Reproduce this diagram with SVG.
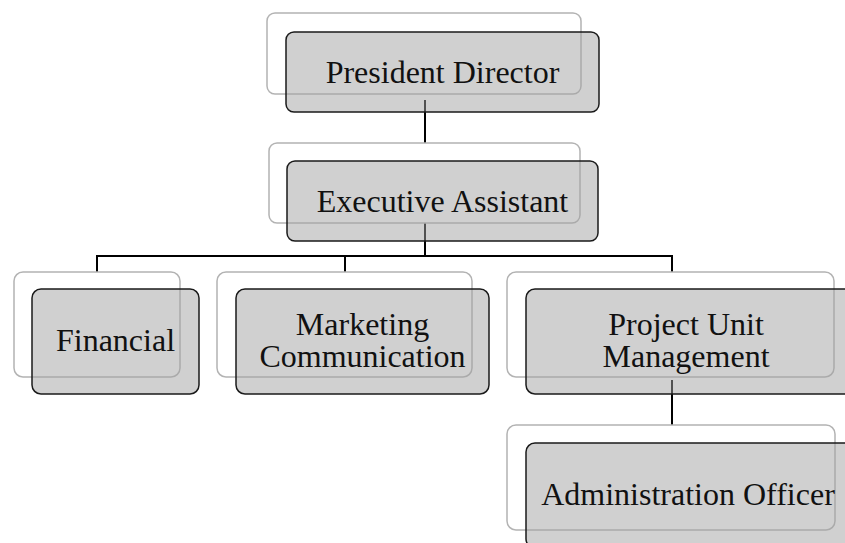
<svg xmlns="http://www.w3.org/2000/svg" width="845" height="543" viewBox="0 0 845 543">
  <style>
    .back { fill: #ffffff; stroke: #b3b3b3; stroke-width: 1.5; }
    .front { fill: #a1a1a1; fill-opacity: 0.5; stroke: #1a1a1a; stroke-width: 1.5; }
    .link { fill: none; stroke: #000000; stroke-width: 2; }
    .label { font-family: "Liberation Serif", "Times New Roman", serif; font-size: 32px; fill: #111111; text-anchor: middle; }
  </style>
  <rect width="845" height="543" fill="#ffffff"/>

  <!-- connectors, drawn first so the card layers sit above them -->
  <g id="connectors">
    <path class="link" d="M425,100 V256"/>
    <path class="link" d="M97,272 V256 H672 V272"/>
    <path class="link" d="M345,256 V272"/>
    <path class="link" d="M672,380 V426"/>
  </g>

  <g id="president-director">
    <rect class="back" x="267" y="13" width="314" height="81" rx="8"/>
    <rect class="front" x="286" y="32" width="313" height="80" rx="8"/>
    <text class="label" x="442.5" y="83">President Director</text>
  </g>

  <g id="executive-assistant">
    <rect class="back" x="269" y="143" width="311" height="80" rx="8"/>
    <rect class="front" x="287" y="161" width="311" height="80" rx="8"/>
    <text class="label" x="442.5" y="212">Executive Assistant</text>
  </g>

  <g id="financial">
    <rect class="back" x="14" y="272" width="166" height="105" rx="9"/>
    <rect class="front" x="32" y="289" width="167" height="105" rx="9"/>
    <text class="label" x="115.5" y="351">Financial</text>
  </g>

  <g id="marketing-communication">
    <rect class="back" x="217" y="272" width="255" height="105" rx="9"/>
    <rect class="front" x="236" y="289" width="253" height="105" rx="9"/>
    <text class="label" x="362.5" y="335">Marketing</text>
    <text class="label" x="362.5" y="367">Communication</text>
  </g>

  <g id="project-unit-management">
    <rect class="back" x="507" y="272" width="327" height="105" rx="9"/>
    <rect class="front" x="526" y="289" width="327" height="105" rx="9"/>
    <text class="label" x="686" y="335">Project Unit</text>
    <text class="label" x="686" y="367">Management</text>
  </g>

  <g id="administration-officer">
    <rect class="back" x="507" y="425" width="328" height="105" rx="9"/>
    <rect class="front" x="526" y="443" width="327" height="105" rx="9"/>
    <text class="label" x="688" y="505">Administration Officer</text>
  </g>
</svg>
